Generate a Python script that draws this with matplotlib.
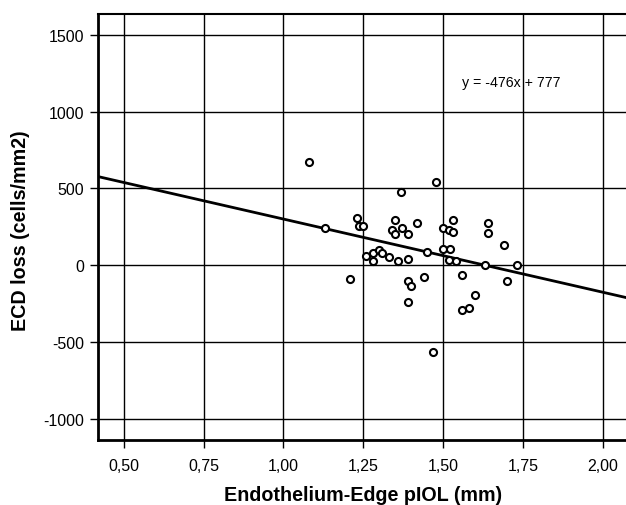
import matplotlib
matplotlib.use("Agg")
import matplotlib.pyplot as plt
import numpy as np

plt.rcParams['font.family'] = ['Liberation Sans', 'DejaVu Sans']

# Data
x_vals = [1.080, 1.129, 1.209, 1.230, 1.238, 1.250, 1.259, 1.280, 1.280, 1.301,
          1.309, 1.330, 1.339, 1.350, 1.351, 1.359, 1.369, 1.372, 1.390, 1.390,
          1.390, 1.401, 1.390, 1.419, 1.440, 1.449, 1.470, 1.478, 1.499, 1.499,
          1.520, 1.530, 1.531, 1.521, 1.520, 1.540, 1.559, 1.559, 1.581, 1.601,
          1.631, 1.640, 1.640, 1.690, 1.699, 1.731]
y_vals = [674, 241, -89, 306, 254, 258, 63, 80, 30, 101,
          80, 52, 228, 293, 206, 28, 475, 245, 202, 41,
          -102, -135, -241, 275, -76, 89, -562, 540, 243, 106,
          228, 293, 215, 106, 37, 30, -63, -289, -280, -195,
          0, 275, 212, 130, -104, 0]

slope = -476
intercept = 777
eq_label = "y = -476x + 777"

x_ticks = [0.50, 0.75, 1.00, 1.25, 1.50, 1.75, 2.00]
x_tick_labels = ["0,50", "0,75", "1,00", "1,25", "1,50", "1,75", "2,00"]
y_ticks = [-1000, -500, 0, 500, 1000, 1500]
y_tick_labels = ["-1000", "-500", "0", "500", "1000", "1500"]

W, H = 626, 506
fig = plt.figure(figsize=(W / 100, H / 100), dpi=100)
left_px, right_px, top_px, bottom_px = 97.7, 640, 15, 440.7
ax = fig.add_axes([left_px / W, 1 - bottom_px / H,
                   (right_px - left_px) / W, (bottom_px - top_px) / H])

xmin = 0.5 - (123.7 - left_px) / 319.3
xmax = 0.5 + (right_px - 123.7) / 319.3
ymax = (266.3 - top_px) / 0.1537
ymin = -(bottom_px - 266.3) / 0.1537
ax.set_xlim(xmin, xmax)
ax.set_ylim(ymin, ymax)

ax.set_xticks(x_ticks)
ax.set_xticklabels(x_tick_labels)
ax.set_yticks(y_ticks)
ax.set_yticklabels(y_tick_labels)
ax.tick_params(axis='both', direction='out', length=6, width=1.0, color='black',
               labelsize=11.5, labelcolor='black')
ax.tick_params(axis='y', pad=4)
ax.tick_params(axis='x', pad=7)

ax.grid(True, color='black', linewidth=1.0)
ax.set_axisbelow(True)
for s in ['left', 'bottom']:
    ax.spines[s].set_linewidth(2.0)
ax.spines['top'].set_linewidth(1.5)
ax.spines['right'].set_visible(False)

xs = np.array([xmin, xmax])
ax.plot(xs, slope * xs + intercept, color='black', linewidth=2.0, zorder=3)

ax.scatter(x_vals, y_vals, s=26, facecolors='white', edgecolors='black',
           linewidths=1.5, zorder=4)

ax.text(1.559, 1193, eq_label, fontsize=10.2, ha='left', va='center', color='black')

ax.set_xlabel("Endothelium-Edge pIOL (mm)", fontsize=14.2, fontweight='bold')
ax.set_ylabel("ECD loss (cells/mm2)", fontsize=14.2, fontweight='bold')
axw = right_px - left_px
axh = bottom_px - top_px
ax.xaxis.set_label_coords((363.0 - left_px) / axw, -(495.5 - bottom_px) / axh)
ax.xaxis.label.set_va('center')
ax.yaxis.set_label_coords((21.0 - left_px) / axw, (bottom_px - 231) / axh)
ax.yaxis.label.set_va('center')

fig.savefig("out.png", dpi=100)
